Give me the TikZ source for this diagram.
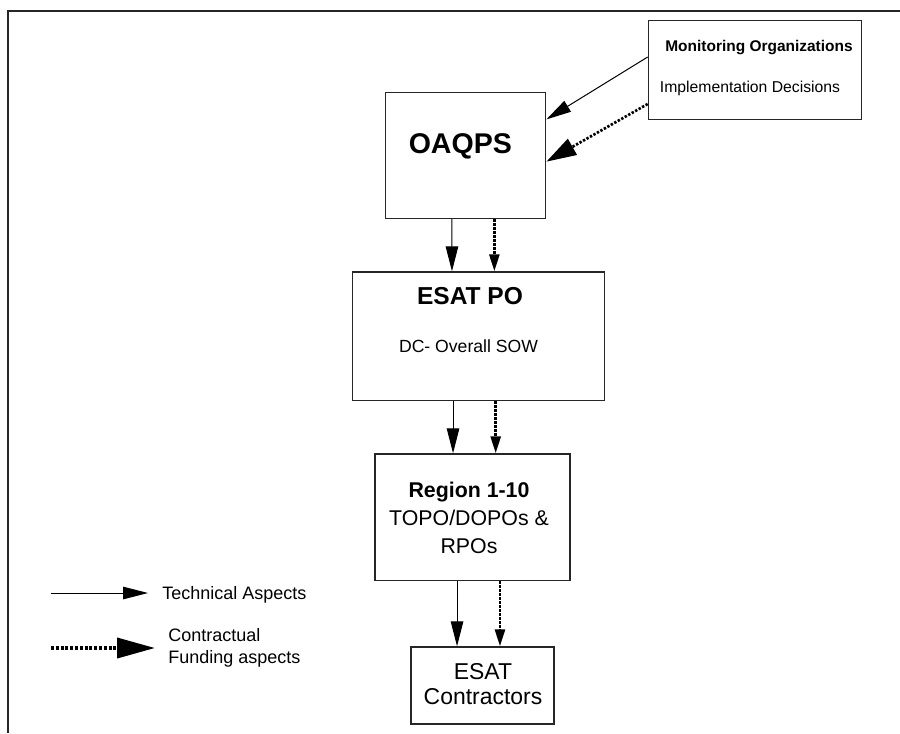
\documentclass[tikz,border=0pt]{standalone}
\usepackage{fontspec}
\setmainfont{Liberation Sans}
\usetikzlibrary{arrows.meta}

\begin{document}
\begin{tikzpicture}[x=0.75pt,y=-0.75pt,
  box/.style={rectangle,draw=black!85,line width=1pt,inner sep=0pt,fill=white},
  tech/.style={-{Triangle[length=18.75pt,width=9.4pt]},draw=black,line width=0.75pt},
  fund/.style={-{Triangle[length=12.75pt,width=7.5pt]},draw=black,line width=2pt,dash pattern=on 1.8pt off 1.2pt},
  txt/.style={inner sep=0pt,align=center}]
\useasboundingbox (0,0) rectangle (900,733);
% frame, cut off on the right and at the bottom
\draw[line width=1.1pt,draw=black!85] (8,733) -- (8,11) -- (900,11);
% boxes
\node[box,minimum width=160pt,minimum height=74pt] (mon) at (755,70) {};
\node[box,minimum width=120pt,minimum height=94.6pt] (oaqps) at (465.7,155.4) {};
\node[box,minimum width=188.7pt,minimum height=96.5pt] (esatpo) at (478.5,336.3) {};
\node[box,minimum width=146.3pt,minimum height=95pt] (region) at (472.5,517.3) {};
\node[box,minimum width=107.3pt,minimum height=57.8pt] (contr) at (482.5,685.5) {};
% texts
\node[txt,font=\fontsize{11.6}{14}\selectfont\bfseries] (mon-name) at (759,48) {Monitoring Organizations};
\node[txt,font=\fontsize{11.8}{14}\selectfont] (mon-role) at (750,88) {Implementation Decisions};
\node[txt,font=\fontsize{21.4}{25}\selectfont\bfseries] (oaqps-name) at (460.3,146.7) {OAQPS};
\node[txt,font=\fontsize{18.4}{22}\selectfont\bfseries] (esatpo-name) at (470,296) {ESAT PO};
\node[txt,font=\fontsize{13.2}{16}\selectfont] (esatpo-role) at (468.5,346) {DC- Overall SOW};
\node[txt,font=\fontsize{16}{21}\selectfont] (region-name) at (469,518) {\textbf{Region 1-10}\\TOPO/DOPOs \&\\RPOs};
\node[txt,font=\fontsize{17.2}{19}\selectfont] (contr-name) at (483,684) {ESAT\\Contractors};
% connectors
\draw[tech] ([yshift=9.75pt]mon.west) -- ([yshift=27pt]oaqps.east);
\draw[fund,-{Triangle[length=22.5pt,width=13.5pt]}] ([yshift=-25.5pt]mon.west) -- ([yshift=-4.7pt]oaqps.east);
\draw[tech] ([xshift=-10.3pt]oaqps.south) -- ([xshift=-19.9pt]esatpo.north);
\draw[fund] ([xshift=21.5pt]oaqps.south) -- ([xshift=11.9pt]esatpo.north);
\draw[tech] ([xshift=-19.1pt]esatpo.south) -- ([xshift=-14.6pt]region.north);
\draw[fund] ([xshift=12.9pt]esatpo.south) -- ([xshift=17.4pt]region.north);
\draw[tech] ([xshift=-11.6pt]region.south) -- ([xshift=-19.1pt]contr.north);
\draw[fund] ([xshift=20.6pt]region.south) -- ([xshift=13.1pt]contr.north);
% legend
\coordinate (tech-a) at (50.7,593);
\coordinate (tech-b) at (148,593);
\coordinate (fund-a) at (51,648);
\coordinate (fund-b) at (155,648);
\draw[tech] (tech-a) -- (tech-b);
\draw[fund,line width=2.8pt,dash pattern=on 2.2pt off 1.4pt,-{Triangle[length=28.5pt,width=15pt]}] (fund-a) -- (fund-b);
\node[txt,anchor=west,font=\fontsize{13.5}{16}\selectfont] (tech-label) at (162,595) {Technical Aspects};
\node[txt,anchor=west,align=left,font=\fontsize{13.5}{16.5}\selectfont] (fund-label) at (168,648) {Contractual\\Funding aspects};
\end{tikzpicture}
\end{document}
